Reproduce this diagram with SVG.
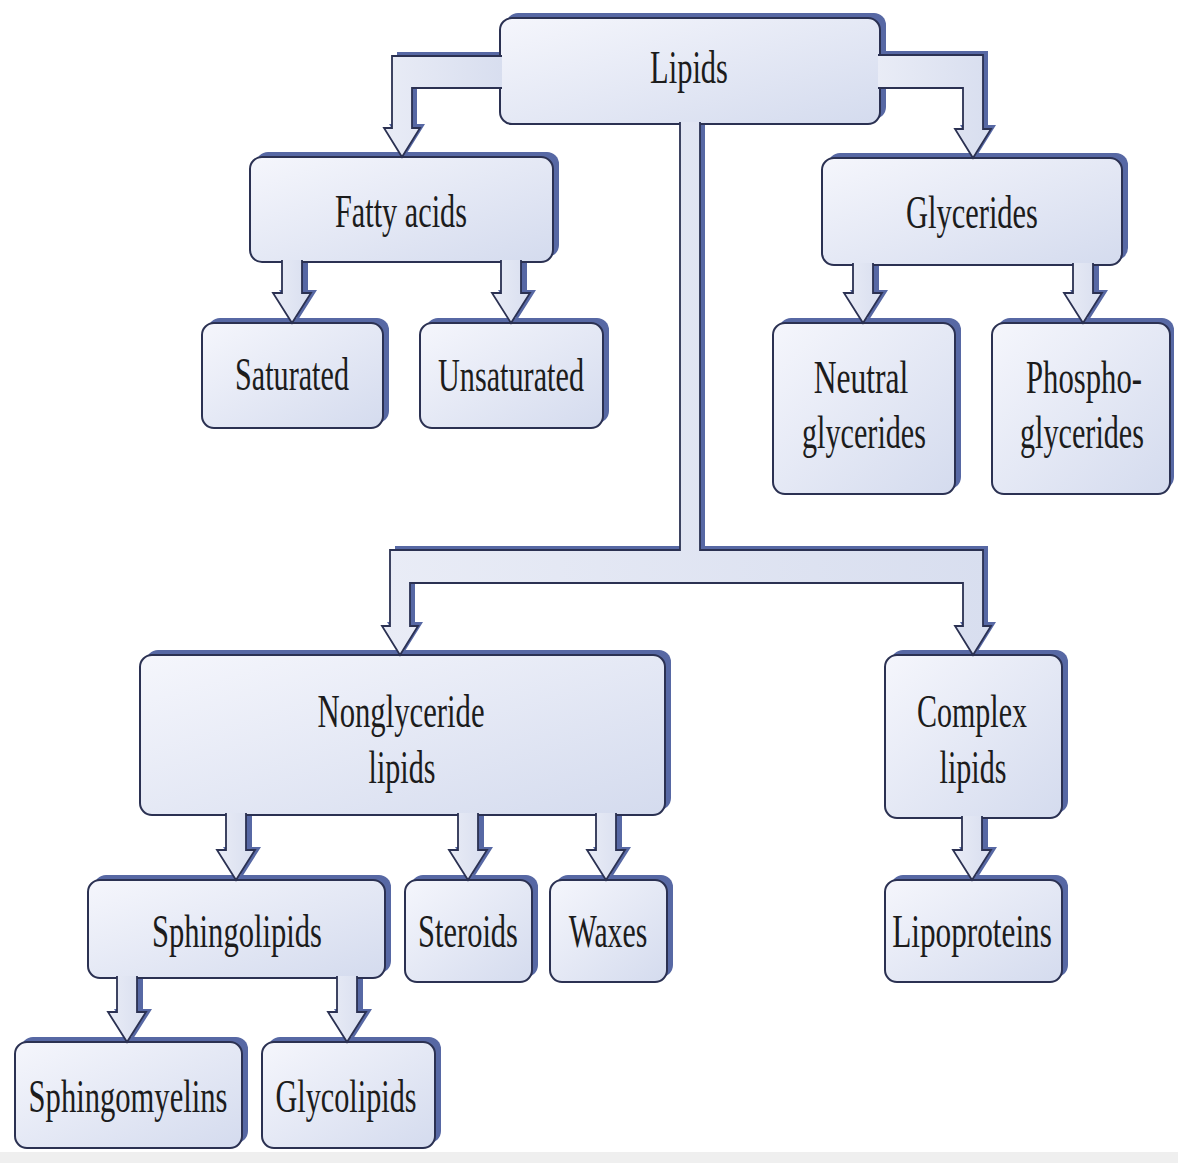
<svg xmlns="http://www.w3.org/2000/svg" xmlns:xlink="http://www.w3.org/1999/xlink" width="1178" height="1163" viewBox="0 0 1178 1163">
<defs>
<linearGradient id="boxg" x1="0" y1="0" x2="1" y2="1">
<stop offset="0" stop-color="#f5f6fc"/>
<stop offset="1" stop-color="#d4dbee"/>
</linearGradient>
<linearGradient id="cong" x1="0" y1="0" x2="1" y2="0">
<stop offset="0" stop-color="#e9ecf6"/>
<stop offset="1" stop-color="#d8deef"/>
</linearGradient>
<path id="c1" d="M 502 56 H 392 V 128 H 384 L 402 157 L 420 128 H 412 V 88 H 502"/>
<path id="c2" d="M 878 55 H 983 V 129 H 991 L 973 158 L 955 129 H 963 V 88 H 878"/>
<path id="c3" d="M 680 122 V 550 H 390 V 626 H 382 L 400 655 L 418 626 H 410 V 583 H 963 V 626 H 955 L 973 655 L 991 626 H 983 V 550 H 700 V 122"/>
<path id="a1" d="M 282 260 V 293 H 273 L 292 323 L 311 293 H 302 V 260"/>
<path id="a2" d="M 501 260 V 293 H 492 L 511 323 L 530 293 H 521 V 260"/>
<path id="a3" d="M 853 263 V 293 H 844 L 863 323 L 882 293 H 873 V 263"/>
<path id="a4" d="M 1073 263 V 293 H 1064 L 1083 323 L 1102 293 H 1093 V 263"/>
<path id="a5" d="M 226 813 V 850 H 217 L 236 880 L 255 850 H 246 V 813"/>
<path id="a6" d="M 458 813 V 850 H 449 L 468 880 L 487 850 H 478 V 813"/>
<path id="a7" d="M 596 813 V 850 H 587 L 606 880 L 625 850 H 616 V 813"/>
<path id="a8" d="M 962 816 V 850 H 953 L 972 880 L 991 850 H 982 V 816"/>
<path id="a9" d="M 117 976 V 1012 H 108 L 127 1042 L 146 1012 H 137 V 976"/>
<path id="a10" d="M 337 976 V 1012 H 328 L 347 1042 L 366 1012 H 357 V 976"/>
</defs>
<style>
.bshadow { fill: #5768a4; }
.box { fill: url(#boxg); stroke: #2b3152; stroke-width: 2; }
.cshadow { fill: #5768a4; stroke: none; }
.conn { fill: url(#cong); stroke: #2b3152; stroke-width: 1.8; stroke-linejoin: miter; }
.lbl { font-family: "Liberation Serif", "Times New Roman", serif; font-size: 47px; fill: #1c1c1c; text-anchor: middle; }
</style>
<rect x="0" y="0" width="1178" height="1163" fill="#ffffff"/>
<rect x="0" y="1152" width="1178" height="11" fill="#efefef"/>

<g id="connector-shadows">
<use href="#c1" class="cshadow" transform="translate(5,-4)"/>
<use href="#c2" class="cshadow" transform="translate(5,-4)"/>
<use href="#c3" class="cshadow" transform="translate(5,-4)"/>
<use href="#a1" class="cshadow" transform="translate(6,-3)"/>
<use href="#a2" class="cshadow" transform="translate(6,-3)"/>
<use href="#a3" class="cshadow" transform="translate(6,-3)"/>
<use href="#a4" class="cshadow" transform="translate(6,-3)"/>
<use href="#a5" class="cshadow" transform="translate(6,-3)"/>
<use href="#a6" class="cshadow" transform="translate(6,-3)"/>
<use href="#a7" class="cshadow" transform="translate(6,-3)"/>
<use href="#a8" class="cshadow" transform="translate(6,-3)"/>
<use href="#a9" class="cshadow" transform="translate(6,-3)"/>
<use href="#a10" class="cshadow" transform="translate(6,-3)"/>
</g>

<g id="node-lipids">
<rect class="bshadow" x="506" y="13" width="380" height="106" rx="12"/>
<rect class="box" x="500" y="18" width="380" height="106" rx="12"/>
<text class="lbl" transform="translate(689,83) scale(0.649,1)">Lipids</text>
</g>
<g id="node-fatty-acids">
<rect class="bshadow" x="256" y="152" width="303" height="105" rx="12"/>
<rect class="box" x="250" y="157" width="303" height="105" rx="12"/>
<text class="lbl" transform="translate(401,227) scale(0.644,1)">Fatty acids</text>
</g>
<g id="node-glycerides">
<rect class="bshadow" x="828" y="153" width="300" height="107" rx="12"/>
<rect class="box" x="822" y="158" width="300" height="107" rx="12"/>
<text class="lbl" transform="translate(972,228) scale(0.648,1)">Glycerides</text>
</g>
<g id="node-saturated">
<rect class="bshadow" x="208" y="318" width="181" height="105" rx="12"/>
<rect class="box" x="202" y="323" width="181" height="105" rx="12"/>
<text class="lbl" transform="translate(292,390) scale(0.642,1)">Saturated</text>
</g>
<g id="node-unsaturated">
<rect class="bshadow" x="426" y="318" width="183" height="105" rx="12"/>
<rect class="box" x="420" y="323" width="183" height="105" rx="12"/>
<text class="lbl" transform="translate(511,391) scale(0.643,1)">Unsaturated</text>
</g>
<g id="node-neutral-glycerides">
<rect class="bshadow" x="779" y="318" width="182" height="171" rx="12"/>
<rect class="box" x="773" y="323" width="182" height="171" rx="12"/>
<text class="lbl" transform="translate(861,393) scale(0.672,1)">Neutral</text>
<text class="lbl" transform="translate(864,448) scale(0.642,1)">glycerides</text>
</g>
<g id="node-phosphoglycerides">
<rect class="bshadow" x="998" y="318" width="176" height="171" rx="12"/>
<rect class="box" x="992" y="323" width="178" height="171" rx="12"/>
<text class="lbl" transform="translate(1084,393) scale(0.653,1)">Phospho-</text>
<text class="lbl" transform="translate(1082,448) scale(0.642,1)">glycerides</text>
</g>
<g id="node-nonglyceride-lipids">
<rect class="bshadow" x="146" y="650" width="525" height="160" rx="12"/>
<rect class="box" x="140" y="655" width="525" height="160" rx="12"/>
<text class="lbl" transform="translate(401,727) scale(0.653,1)">Nonglyceride</text>
<text class="lbl" transform="translate(402,783) scale(0.641,1)">lipids</text>
</g>
<g id="node-complex-lipids">
<rect class="bshadow" x="891" y="650" width="177" height="163" rx="12"/>
<rect class="box" x="885" y="655" width="177" height="163" rx="12"/>
<text class="lbl" transform="translate(972,727) scale(0.638,1)">Complex</text>
<text class="lbl" transform="translate(973,783) scale(0.641,1)">lipids</text>
</g>
<g id="node-sphingolipids">
<rect class="bshadow" x="94" y="875" width="297" height="98" rx="12"/>
<rect class="box" x="88" y="880" width="297" height="98" rx="12"/>
<text class="lbl" transform="translate(237,947) scale(0.651,1)">Sphingolipids</text>
</g>
<g id="node-steroids">
<rect class="bshadow" x="411" y="875" width="127" height="102" rx="12"/>
<rect class="box" x="405" y="880" width="127" height="102" rx="12"/>
<text class="lbl" transform="translate(468,947) scale(0.649,1)">Steroids</text>
</g>
<g id="node-waxes">
<rect class="bshadow" x="556" y="875" width="117" height="102" rx="12"/>
<rect class="box" x="550" y="880" width="117" height="102" rx="12"/>
<text class="lbl" transform="translate(608,947) scale(0.633,1)">Waxes</text>
</g>
<g id="node-lipoproteins">
<rect class="bshadow" x="891" y="875" width="177" height="102" rx="12"/>
<rect class="box" x="885" y="880" width="177" height="102" rx="12"/>
<text class="lbl" transform="translate(972,947) scale(0.665,1)">Lipoproteins</text>
</g>
<g id="node-sphingomyelins">
<rect class="bshadow" x="21" y="1037" width="227" height="106" rx="12"/>
<rect class="box" x="15" y="1042" width="227" height="106" rx="12"/>
<text class="lbl" transform="translate(128,1112) scale(0.651,1)">Sphingomyelins</text>
</g>
<g id="node-glycolipids">
<rect class="bshadow" x="268" y="1037" width="173" height="106" rx="12"/>
<rect class="box" x="262" y="1042" width="173" height="106" rx="12"/>
<text class="lbl" transform="translate(346,1112) scale(0.643,1)">Glycolipids</text>
</g>

<g id="connectors">
<use href="#c1" class="conn"/>
<use href="#c2" class="conn"/>
<use href="#c3" class="conn"/>
<use href="#a1" class="conn"/>
<use href="#a2" class="conn"/>
<use href="#a3" class="conn"/>
<use href="#a4" class="conn"/>
<use href="#a5" class="conn"/>
<use href="#a6" class="conn"/>
<use href="#a7" class="conn"/>
<use href="#a8" class="conn"/>
<use href="#a9" class="conn"/>
<use href="#a10" class="conn"/>
</g>
</svg>
